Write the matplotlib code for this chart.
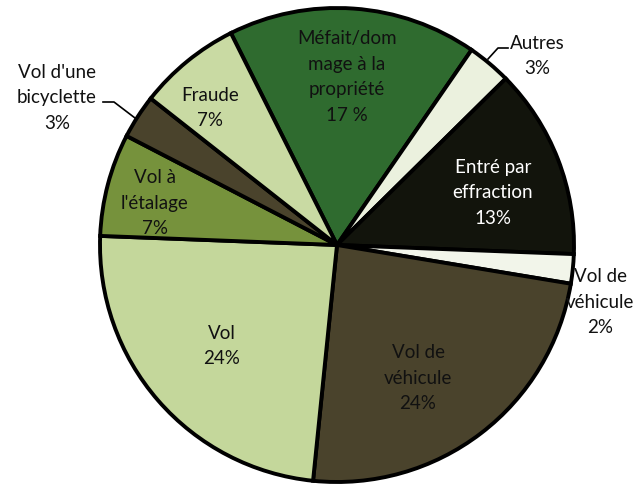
import matplotlib.pyplot as plt
import numpy as np

plt.rcParams['font.family'] = ['Lato', 'DejaVu Sans']

# donnees (ordre horaire a partir de Méfait)
categories = ["Méfait/dom\nmage à la\npropriété", "Autres", "Entré par\neffraction",
              "Vol de\nvéhicule", "Vol de\nvéhicule", "Vol", "Vol à\nl'étalage",
              "Vol d'une\nbicyclette", "Fraude"]
pourcentages = [17, 3, 13, 2, 24, 24, 7, 3, 7]
etiquettes_pct = ["17 %", "3%", "13%", "2%", "24%", "24%", "7%", "3%", "7%"]
couleurs = ["#2F6B2F", "#EBF1DE", "#12140C", "#F2F5EA", "#4A432C",
            "#C4D79B", "#76923C", "#4A432C", "#C9DAA3"]
couleurs_texte = ["#111111", "#111111", "white", "#111111", "#111111",
                  "#111111", "#111111", "#111111", "#111111"]

fig = plt.figure(figsize=(6.43, 4.84), dpi=100)
# centre du camembert (337, 245) px, rayon 237 px
cx, cy, r = 337, 245, 237
W, H = 643, 484
ax = fig.add_axes([(cx - r) / W, (H - cy - r) / H, 2 * r / W, 2 * r / H])

ax.pie(pourcentages, colors=couleurs, startangle=116.6, counterclock=False,
       radius=1, wedgeprops=dict(edgecolor='black', linewidth=2.8))
ax.set_xlim(-1, 1)
ax.set_ylim(-1, 1)
ax.set_aspect('equal')
ax.axis('off')

def px(x, y):
    return ((x - cx) / r, (cy - y) / r)

# positions des etiquettes en pixels
pos_labels = [(347, 77), (537, 56), (493, 193), (600, 302), (418, 378),
              (222, 346), (155, 203), (57, 98), (210, 108)]
for i, (x, y) in enumerate(pos_labels):
    xd, yd = px(x, y)
    ax.text(xd, yd, categories[i] + "\n" + etiquettes_pct[i], ha='center', va='center',
            fontsize=13.5, color=couleurs_texte[i], linespacing=1.6, clip_on=False)

# lignes de rappel
for pts in [[(488, 59), (498, 48), (508, 48)], [(103, 102), (114, 102), (135, 118)]]:
    xs, ys = zip(*[px(a, b) for a, b in pts])
    ax.plot(xs, ys, color='black', linewidth=1.2, clip_on=False)

fig.savefig("out.png", dpi=100)
